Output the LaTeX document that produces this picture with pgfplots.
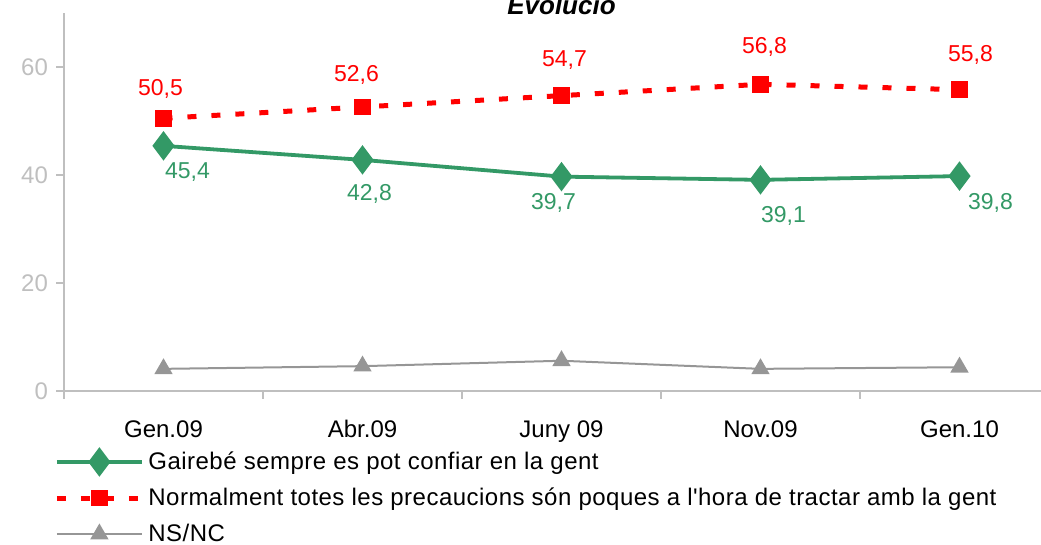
\documentclass[border=0pt]{standalone}
\usepackage{fontspec}
\setmainfont{Liberation Sans}
\newfontfamily\legfont[LetterSpace=2]{Liberation Sans}
\usepackage{pgfplots}
\usepackage{pgfplotstable}
\pgfplotsset{compat=1.18}
\definecolor{verd}{RGB}{51,153,102}
\definecolor{gristxt}{RGB}{191,191,191}
\definecolor{grisnc}{RGB}{150,150,150}

\pgfplotstableread{
x confia precaucions nsnc
0 45.4 50.5 4.1
1 42.8 52.6 4.6
2 39.7 54.7 5.6
3 39.1 56.8 4.1
4 39.8 55.8 4.4
}\evolucio

\begin{document}
\fontsize{11.5}{13.8}\selectfont
\begin{tikzpicture}
\begin{axis}[
  name=ax,
  scale only axis, width=497.5pt, height=189pt,
  xmin=-0.5, xmax=4.5, ymin=0, ymax=70,
  axis x line=bottom, axis y line=left,
  axis line style={draw=gristxt, line width=1pt, -},
  xtick={-0.5,0.5,1.5,2.5,3.5,4.5},
  x tick label as interval,
  xticklabels={Gen.09,Abr.09,Juny 09,Nov.09,Gen.10},
  xticklabel style={yshift=-6pt, text height=9pt, text depth=2.5pt,
    font=\fontsize{12}{14}\selectfont},
  ytick={0,20,40,60},
  yticklabel style={text=gristxt, font=\fontsize{12}{14}\selectfont},
  tick align=outside, major tick length=4pt,
  tick style={draw=gristxt, line width=1pt},
  clip=false,
  font=\fontsize{11.5}{13.8}\selectfont,
  /pgf/number format/assume math mode=true,
  legend style={at={(0,0)}, anchor=north west, xshift=-5pt, yshift=-28pt,
    draw=none, fill=none, inner sep=0pt, row sep=3.5pt,
    font=\legfont\fontsize{12}{14}\selectfont},
  legend cell align=left,
  legend image code/.code={\draw[mark repeat=2,mark phase=2,#1]
    plot coordinates {(0pt,0pt) (21.25pt,0pt) (42.5pt,0pt)};},
]
\addplot[verd, line width=1.9pt, mark=diamond*, mark size=5.8pt,
  mark options={solid}] table[x=x, y=confia] {\evolucio};
\addlegendentry{Gairebé sempre es pot confiar en la gent}
\addplot[red, line width=2.5pt, dash pattern=on 4.5pt off 7.5pt,
  mark=square*, mark size=3.9pt, mark options={solid, line width=0.5pt}]
  table[x=x, y=precaucions] {\evolucio};
\addlegendentry{Normalment totes les precaucions són poques a l'hora de tractar amb la gent}
\addplot[grisnc, line width=1pt, mark=triangle*, mark size=4.3pt]
  table[x=x, y=nsnc] {\evolucio};
\addlegendentry{NS/NC}

\begin{scope}[every node/.style={inner sep=0pt, anchor=center}]
\node[text=verd, xshift=12pt, yshift=-13pt] at (axis cs:0,45.4) {45,4};
\node[text=verd, xshift=3.5pt, yshift=-17pt] at (axis cs:1,42.8) {42,8};
\node[text=verd, xshift=-4pt, yshift=-13pt] at (axis cs:2,39.7) {39,7};
\node[text=verd, xshift=11.5pt, yshift=-18pt] at (axis cs:3,39.1) {39,1};
\node[text=verd, xshift=15.5pt, yshift=-13.5pt] at (axis cs:4,39.8) {39,8};
\node[text=red, xshift=-1.5pt, yshift=14.5pt] at (axis cs:0,50.5) {50,5};
\node[text=red, xshift=-3pt, yshift=16pt] at (axis cs:1,52.6) {52,6};
\node[text=red, xshift=1.5pt, yshift=18pt] at (axis cs:2,54.7) {54,7};
\node[text=red, xshift=2pt, yshift=18.5pt] at (axis cs:3,56.8) {56,8};
\node[text=red, xshift=5.5pt, yshift=17.5pt] at (axis cs:4,55.8) {55,8};
\end{scope}
\node[anchor=base, font=\fontsize{13}{15}\selectfont\bfseries\itshape]
  at (axis cs:2,69.8) {Evolució};
\end{axis}
\pgfresetboundingbox
\path[use as bounding box] (ax.south west) ++(-32pt,-77pt) rectangle ++(520.5pt,272.5pt);
\end{tikzpicture}
\end{document}
